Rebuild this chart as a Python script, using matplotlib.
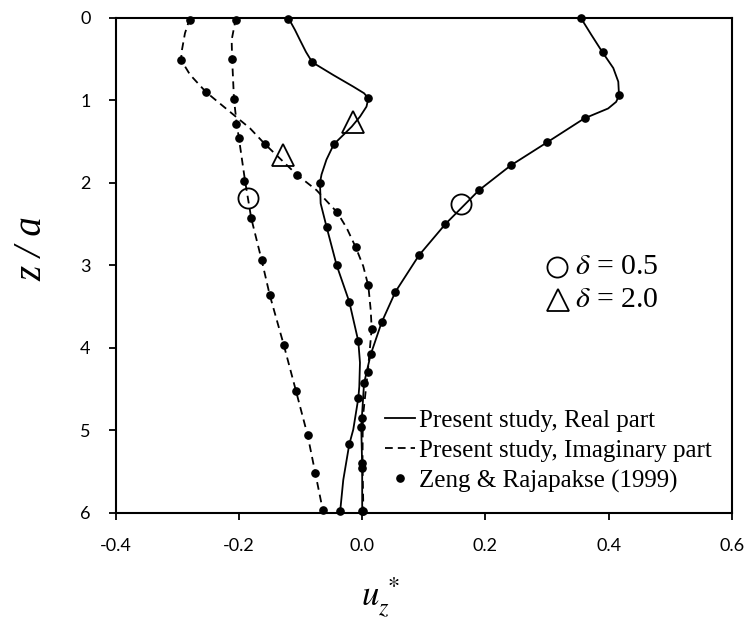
import matplotlib
matplotlib.use("Agg")
import matplotlib.pyplot as plt
from matplotlib.lines import Line2D

# Present study, delta = 0.5 (lines)
z_line_05_real = [0.0, 0.21, 0.42, 0.61, 0.775, 0.944, 1.02, 1.10, 1.22, 1.51, 1.79, 2.09, 2.50, 2.88,
                  3.32, 3.69, 4.08, 4.43, 4.96, 5.45, 6.0]
u_line_05_real = [0.3545, 0.372, 0.390, 0.4074, 0.4155, 0.4167, 0.412, 0.399, 0.3604, 0.300, 0.241,
                  0.1895, 0.135, 0.092, 0.054, 0.0316, 0.0138, 0.003, -0.0015, 0.0, 0.0]
z_line_05_imag = [0.0, 0.27, 0.50, 0.99, 1.28, 1.46, 1.98, 2.43, 2.94, 3.36, 3.96, 4.52, 5.06, 5.52, 6.0]
u_line_05_imag = [-0.2048, -0.2118, -0.2110, -0.208, -0.2037, -0.200, -0.190, -0.180, -0.163, -0.150,
                  -0.1274, -0.1075, -0.0885, -0.076, -0.063]

# Present study, delta = 2.0 (lines)
z_line_2_real = [0.0, 0.149, 0.27, 0.415, 0.54, 0.694, 0.835, 0.915, 0.976, 1.077, 1.199, 1.32, 1.46,
                 1.533, 1.72, 1.90, 2.0, 2.25, 2.54, 3.0, 3.44, 3.92, 4.18, 4.47, 4.61, 4.99, 5.17,
                 5.60, 6.0]
u_line_2_real = [-0.120, -0.109, -0.101, -0.0912, -0.081, -0.047, -0.0145, 0.003, 0.010, 0.007,
                 -0.0036, -0.017, -0.036, -0.046, -0.058, -0.066, -0.0685, -0.0674, -0.0576, -0.0414,
                 -0.021, -0.0063, -0.0036, -0.0047, -0.0063, -0.0145, -0.021, -0.0307, -0.036]
z_line_2_imag = [0.0, 0.19, 0.39, 0.51, 0.69, 0.90, 1.14, 1.34, 1.53, 1.90, 2.09, 2.36, 2.55, 2.79,
                 3.01, 3.25, 3.54, 3.77, 4.29, 4.85, 5.39, 6.0]
u_line_2_imag = [-0.2794, -0.2876, -0.2924, -0.294, -0.2794, -0.2535, -0.2146, -0.182, -0.158, -0.1063,
                 -0.074, -0.0404, -0.025, -0.010, 0.0017, 0.010, 0.0138, 0.0154, 0.009, 0.001, 0.0005, 0.002]

# Zeng & Rajapakse (1999) (dots)
z_dot_05_real = [0.0, 0.42, 0.94, 1.22, 1.51, 1.79, 2.09, 2.50, 2.88, 3.32, 3.69, 4.08, 4.43, 4.96, 5.45, 5.98]
u_dot_05_real = [0.3545, 0.390, 0.4167, 0.3615, 0.300, 0.241, 0.1895, 0.135, 0.092, 0.054, 0.0316,
                 0.0138, 0.003, -0.0015, 0.0, 0.0]
z_dot_05_imag = [0.03, 0.50, 0.98, 1.29, 1.46, 1.98, 2.43, 2.94, 3.36, 3.96, 4.52, 5.06, 5.52, 5.97]
u_dot_05_imag = [-0.2053, -0.211, -0.2076, -0.2053, -0.200, -0.191, -0.180, -0.163, -0.150, -0.1274,
                 -0.1075, -0.0885, -0.076, -0.064]
z_dot_2_real = [0.01, 0.54, 0.976, 1.533, 2.0, 2.54, 3.0, 3.44, 3.92, 4.61, 5.17, 5.98]
u_dot_2_real = [-0.120, -0.081, 0.010, -0.046, -0.0685, -0.0576, -0.0414, -0.021, -0.0063, -0.0063,
                -0.021, -0.036]
z_dot_2_imag = [0.03, 0.51, 0.90, 1.53, 1.90, 2.36, 2.78, 3.24, 3.77, 4.29, 4.85, 5.39, 5.98]
u_dot_2_imag = [-0.279, -0.294, -0.2535, -0.158, -0.1063, -0.0404, -0.010, 0.010, 0.0154, 0.009,
                0.0, 0.0, 0.002]

# curve identifiers (circle = 0.5, triangle = 2.0)
u_circle = [0.161, -0.185]
z_circle = [2.26, 2.19]
u_tri = [-0.0145, -0.128]
z_tri = [1.26, 1.66]

xticks = [-0.4, -0.2, 0.0, 0.2, 0.4, 0.6]
yticks = [0, 1, 2, 3, 4, 5, 6]

plt.rcParams['mathtext.fontset'] = 'stix'
serif = 'Liberation Serif'

fig = plt.figure(figsize=(7.51, 6.21), dpi=100)
ax = fig.add_axes([0.154, 0.174, 0.8207, 0.7975])

lw = 1.3
dash = (4.3, 2.8)
ax.plot(u_line_05_real, z_line_05_real, color='black', lw=lw)
ax.plot(u_line_2_real, z_line_2_real, color='black', lw=lw)
ax.plot(u_line_05_imag, z_line_05_imag, color='black', lw=lw, dashes=dash)
ax.plot(u_line_2_imag, z_line_2_imag, color='black', lw=lw, dashes=dash)

for u, z in [(u_dot_05_real, z_dot_05_real), (u_dot_05_imag, z_dot_05_imag),
             (u_dot_2_real, z_dot_2_real), (u_dot_2_imag, z_dot_2_imag)]:
    ax.plot(u, z, 'o', color='black', ms=5.2, ls='none', clip_on=False, zorder=4)

ax.plot(u_circle, z_circle, 'o', ms=14.5, mfc='none', mec='black', mew=1.3, ls='none', zorder=5)
ax.plot(u_tri, z_tri, '^', ms=16, mfc='none', mec='black', mew=1.3, ls='none', zorder=5)

ax.set_xlim(-0.4, 0.6)
ax.set_ylim(6, 0)
ax.set_xticks(xticks)
ax.set_xticklabels(['%.1f' % v for v in xticks])
ax.set_yticks(yticks)
ax.tick_params(direction='out', length=5, width=1.3, pad=13, labelsize=13)
for lab in ax.get_xticklabels() + ax.get_yticklabels():
    lab.set_fontfamily('Lato')
for s in ax.spines.values():
    s.set_linewidth(1.5)

ax.set_ylabel('z / a', fontsize=28, family=serif, style='italic', va='center')
ax.yaxis.set_label_coords(-0.136, 0.533)
ax.set_xlabel(r'$u_z^{\,*}$', fontsize=25, va='top')
ax.xaxis.set_label_coords(0.43, -0.125)

# delta key
ax.plot([0.716], [0.497], 'o', ms=14.5, mfc='none', mec='black', mew=1.3, transform=ax.transAxes, clip_on=False)
ax.plot([0.718], [0.430], '^', ms=16, mfc='none', mec='black', mew=1.3, transform=ax.transAxes, clip_on=False)
ax.text(0.745, 0.497, r'$\delta$ = 0.5', transform=ax.transAxes, fontsize=21.5, family=serif, va='center')
ax.text(0.745, 0.430, r'$\delta$ = 2.0', transform=ax.transAxes, fontsize=21.5, family=serif, va='center')

handles = [Line2D([], [], color='black', lw=lw),
           Line2D([], [], color='black', lw=lw, dashes=dash),
           Line2D([], [], color='black', marker='o', ms=5.2, ls='none')]
labels = ['Present study, Real part', 'Present study, Imaginary part', 'Zeng & Rajapakse (1999)']
ax.legend(handles, labels, loc='upper left', bbox_to_anchor=(0.437, 0.209), frameon=False,
          prop={'family': serif, 'size': 18}, handlelength=1.2, handletextpad=0.16,
          labelspacing=0.30, borderpad=0, borderaxespad=0)

fig.savefig('out.png', dpi=100)
